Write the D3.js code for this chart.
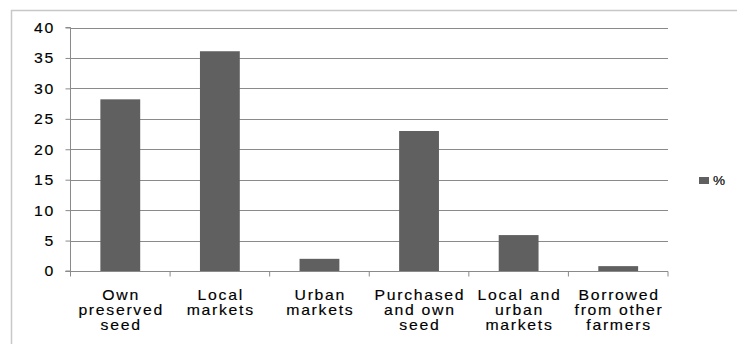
<!DOCTYPE html>
<html><head><meta charset="utf-8">
<script src="https://cdn.jsdelivr.net/npm/d3@7"></script>
<style>body{margin:0;background:#fff}svg{display:block}</style>
</head><body>
<script>
const categories = [
  ["Own","preserved","seed"],
  ["Local","markets"],
  ["Urban","markets"],
  ["Purchased","and own","seed"],
  ["Local and","urban","markets"],
  ["Borrowed","from other","farmers"]
];
const values = [28.2, 36.1, 2.0, 23.0, 5.9, 0.8];
const yTicks = [0,5,10,15,20,25,30,35,40];
const seriesName = "%";

const W=737,H=344;
const FONT="Arial, 'Liberation Sans', sans-serif";
const SX=1.13, LS=1.5;
const svg=d3.select("body").append("svg").attr("width",W).attr("height",H);
svg.append("rect").attr("x",11.5).attr("y",10.5).attr("width",W).attr("height",H)
  .attr("fill","none").attr("stroke","#c8c8c8").attr("stroke-width",1.5);

const x0=70.5,x1=668,yTop=27.5,yBot=271;
const x=d3.scaleBand().domain(d3.range(categories.length)).range([x0,x1]).paddingInner(0.6).paddingOuter(0.3);
const y=d3.scaleLinear().domain([0,40]).range([yBot,yTop]);

// gridlines
svg.append("g").selectAll("line").data(yTicks.filter(d=>d>0)).join("line")
  .attr("x1",x0).attr("x2",x1).attr("y1",d=>Math.round(y(d))+0.5).attr("y2",d=>Math.round(y(d))+0.5)
  .attr("stroke","#8a8a8a").attr("stroke-width",1);

// bars
svg.append("g").selectAll("rect").data(values).join("rect")
  .attr("x",(d,i)=>x(i)).attr("width",x.bandwidth())
  .attr("y",d=>y(d)).attr("height",d=>yBot-y(d))
  .attr("fill","#606060");

// y axis
const yAxis=d3.axisLeft(y).tickValues(yTicks).tickSize(5);
const gy=svg.append("g").attr("transform",`translate(${x0},0)`).call(yAxis);
gy.select(".domain").attr("stroke","#8a8a8a").attr("d",`M-5,${yBot}H0V${yTop}H-5`);
gy.selectAll(".tick line").attr("stroke","#8a8a8a");
gy.selectAll("text").attr("font-family",FONT).attr("font-size",14).attr("fill","#000")
  .attr("letter-spacing",LS+"px")
  .attr("x",0).attr("dy","0.35em").attr("transform",`translate(-15.5,0) scale(${SX},1)`)
  .attr("stroke","#000").attr("stroke-width",0.15);

// x axis
const xb=d3.scaleLinear().domain([0,categories.length]).range([x0,x1]);
const gx=svg.append("g").attr("transform",`translate(0,${Math.round(yBot)+0.5})`);
gx.append("line").attr("x1",x0-5).attr("x2",x1).attr("stroke","#8a8a8a");
gx.selectAll("line.t").data(d3.range(categories.length+1)).join("line").attr("class","t")
  .attr("x1",d=>xb(d)).attr("x2",d=>xb(d)).attr("y1",0).attr("y2",5).attr("stroke","#8a8a8a");

const lbl=svg.append("g").attr("font-family",FONT).attr("font-size",14).attr("fill","#000")
  .attr("letter-spacing",LS+"px")
  .attr("stroke","#000").attr("stroke-width",0.15).attr("text-anchor","middle");
categories.forEach((lines,i)=>{
  const cx=x(i)+x.bandwidth()/2+LS*SX/2;
  const t=lbl.append("text").attr("transform",`translate(${cx},300) scale(${SX},1)`);
  lines.forEach((s,j)=>t.append("tspan").attr("x",0).attr("y",j*15).text(s));
});

// legend
svg.append("rect").attr("x",699).attr("y",177).attr("width",10).attr("height",7).attr("fill","#606060");
svg.append("text").attr("transform",`translate(713,185) scale(${SX},1)`).attr("font-family",FONT).attr("font-size",12)
  .attr("letter-spacing","1px").attr("stroke","#000").attr("stroke-width",0.15).text(seriesName);
</script>
</body></html>
